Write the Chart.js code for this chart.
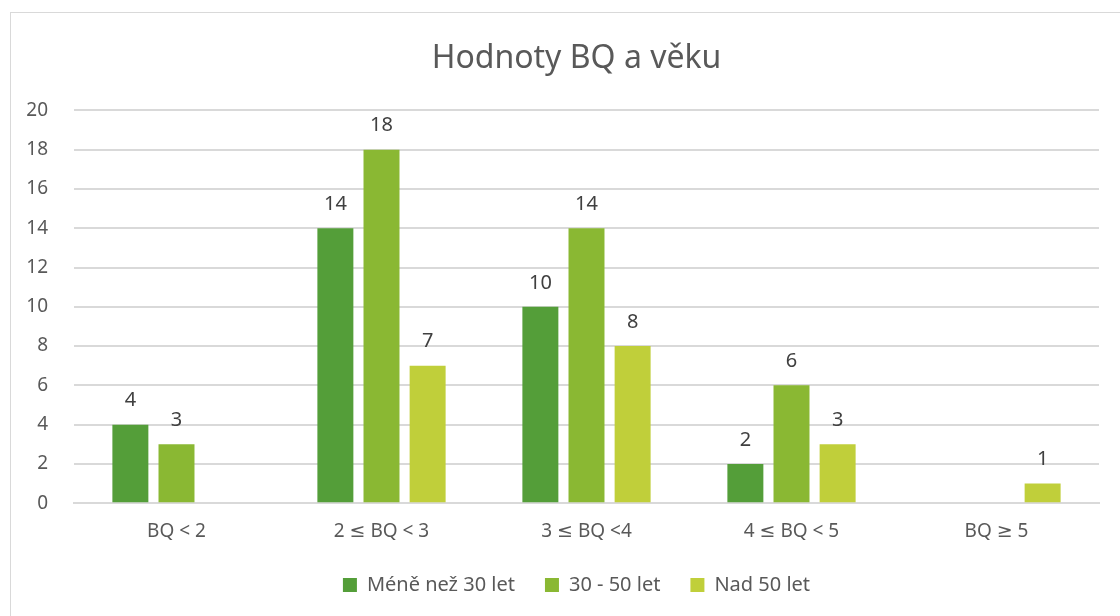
<!DOCTYPE html>
<html>
<head>
<meta charset="utf-8">
<script src="https://cdn.jsdelivr.net/npm/chart.js@4"></script>
<style>
  html, body { margin: 0; padding: 0; background: #fff; overflow: hidden; }
  #frame { position: absolute; left: 10px; top: 12px; width: 1130px; height: 640px; border: 1px solid #d9d9d9; }
  #wrap { position: absolute; left: 0; top: 0; width: 1120px; height: 616px; }
</style>
</head>
<body>
<div id="frame"></div>
<div id="wrap"><canvas id="chart"></canvas></div>
<script>
// Hodnoty BQ podle věkových skupin
const categories = ['BQ < 2', '2 ≤ BQ < 3', '3 ≤ BQ <4', '4 ≤ BQ < 5', 'BQ ≥ 5'];
const seriesNames = ['Méně než 30 let', '30 - 50 let', 'Nad 50 let'];
const under30 = [4, 14, 10, 2, null];
const from30to50 = [3, 18, 14, 6, null];
const over50 = [null, 7, 8, 3, 1];
const yTicks = [0, 2, 4, 6, 8, 10, 12, 14, 16, 18, 20];

const colors = ['#549e39', '#8ab833', '#c0cf3a'];
const FONT = '"Noto Sans", "DejaVu Sans", sans-serif';

// value labels above bars (no datalabels plugin available)
const barValues = {
  id: 'barValues',
  afterDatasetsDraw(chart) {
    const ctx = chart.ctx;
    ctx.save();
    ctx.font = '20px ' + FONT;
    ctx.fillStyle = '#404040';
    ctx.textAlign = 'center';
    ctx.textBaseline = 'bottom';
    chart.data.datasets.forEach((ds, i) => {
      chart.getDatasetMeta(i).data.forEach((bar, j) => {
        const v = ds.data[j];
        if (v == null) return;
        ctx.fillText(String(v), bar.x, bar.y - 14);
      });
    });
    ctx.restore();
  }
};

// Excel centres title and legend a bit right of the canvas middle
const nudgeBoxes = {
  id: 'nudgeBoxes',
  afterLayout(chart) {
    const dx = 27;
    [chart.titleBlock, chart.legend].forEach(b => {
      if (!b) return;
      b.left += dx;
      b.right += dx;
    });
    if (chart.legend) {
      chart.legend.top -= 15;
      chart.legend.bottom -= 15;
    }
  }
};

new Chart(document.getElementById('chart'), {
  type: 'bar',
  data: {
    labels: categories,
    datasets: [
      { label: seriesNames[0], data: under30, backgroundColor: colors[0] },
      { label: seriesNames[1], data: from30to50, backgroundColor: colors[1] },
      { label: seriesNames[2], data: over50, backgroundColor: colors[2] },
    ]
  },
  options: {
    responsive: true,
    maintainAspectRatio: false,
    animation: false,
    layout: { padding: { left: 0, right: 21, top: 0, bottom: -4 } },
    datasets: { bar: { categoryPercentage: 0.675, barPercentage: 0.78 } },
    plugins: {
      title: {
        display: true,
        text: 'Hodnoty BQ a věku',
        color: '#595959',
        font: { family: FONT, size: 32, weight: 'normal' },
        padding: { top: 40, bottom: 32 },
      },
      legend: {
        position: 'bottom',
        labels: {
          color: '#595959',
          font: { family: FONT, size: 20 },
          boxWidth: 14,
          boxHeight: 14,
          padding: 30,
        }
      },
      tooltip: { enabled: false },
    },
    scales: {
      x: {
        grid: { display: false, drawTicks: false },
        border: { color: '#d9d9d9', width: 2 },
        ticks: { color: '#595959', font: { family: FONT, size: 19 }, padding: 17 },
      },
      y: {
        min: 0,
        max: 20,
        afterBuildTicks: (s) => { s.ticks = yTicks.map(v => ({ value: v })); },
        afterFit: (s) => { s.width = 74; },
        grid: { color: '#d9d9d9', lineWidth: 2, drawTicks: false },
        border: { display: false },
        ticks: { color: '#595959', font: { family: FONT, size: 19 }, padding: 26 },
      }
    }
  },
  plugins: [barValues, nudgeBoxes]
});
</script>
</body>
</html>
